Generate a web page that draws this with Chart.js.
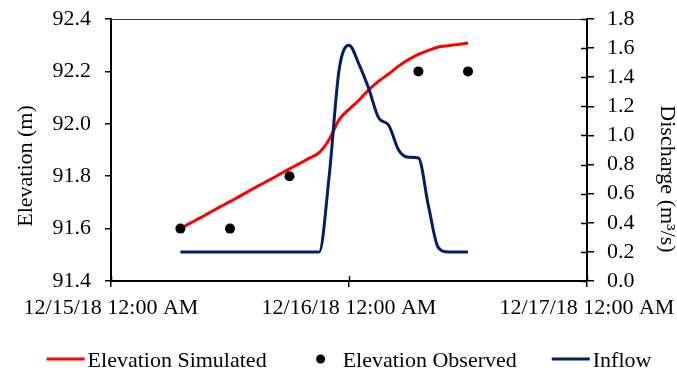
<!DOCTYPE html>
<html>
<head>
<meta charset="utf-8">
<title>Reservoir elevation and inflow</title>
<script src="https://cdn.jsdelivr.net/npm/chart.js@4/dist/chart.umd.min.js"></script>
<style>
  html, body { margin: 0; padding: 0; background: #fff; }
  canvas { display: block; }
</style>
</head>
<body>
<canvas id="reservoirChart" width="677" height="372"></canvas>
<script>
// Hours counted from 12/15/18 12:00 AM
const simHours = [7, 8, 9, 10, 11, 12, 13, 14, 15, 16, 17, 18, 19, 20, 21,
                  22, 23, 24, 25, 26, 27, 28, 29, 30, 31, 32, 33, 34, 35, 36];
const simElevation = [91.600, 91.621, 91.641, 91.662, 91.683, 91.703, 91.724, 91.745, 91.766, 91.786,
                      91.807, 91.828, 91.848, 91.869, 91.890, 91.94, 92.015, 92.055, 92.09, 92.13,
                      92.163, 92.19, 92.22, 92.245, 92.265, 92.28, 92.293, 92.298, 92.303, 92.308];

const obsHours = [7, 12, 18, 31, 36];
const obsElevation = [91.6, 91.6, 91.8, 92.2, 92.2];

const inflowHours = simHours;
const inflow = [0.2, 0.2, 0.2, 0.2, 0.2, 0.2, 0.2, 0.2, 0.2, 0.2, 0.2, 0.2, 0.2, 0.2, 0.2,
                0.72, 1.45, 1.62, 1.49, 1.32, 1.12, 1.07, 0.90, 0.85, 0.845, 0.52, 0.23, 0.2, 0.2, 0.2];

const xTickLabels = ['12/15/18 12:00 AM', '12/16/18 12:00 AM', '12/17/18 12:00 AM'];
const elevRange = [91.4, 92.4];
const dischargeRange = [0, 1.8];

const FONT = '"Liberation Serif", "Times New Roman", serif';
Chart.defaults.font.family = FONT;
Chart.defaults.font.size = 22;
Chart.defaults.color = '#000';

const toPoints = (xs, ys) => xs.map((x, i) => ({ x, y: ys[i] }));

// axis titles, top frame line, inner tick halves and the legend row
const decorPlugin = {
  id: 'decor',
  afterDraw(chart) {
    const { ctx, chartArea: area, scales } = chart;
    ctx.save();

    ctx.strokeStyle = '#404040';
    ctx.lineWidth = 1;
    ctx.beginPath();
    ctx.moveTo(area.left, area.top + 0.5);
    ctx.lineTo(area.right, area.top + 0.5);
    ctx.stroke();

    ctx.strokeStyle = '#000';
    ctx.lineWidth = 1.5;
    ctx.beginPath();
    scales.x.ticks.forEach(t => {
      const px = Math.round(scales.x.getPixelForValue(t.value)) + 0.5;
      ctx.moveTo(px, area.bottom);
      ctx.lineTo(px, area.bottom - 5);
    });
    scales.y2.ticks.forEach(t => {
      const py = Math.round(scales.y2.getPixelForValue(t.value)) + 0.5;
      ctx.moveTo(area.right, py);
      ctx.lineTo(area.right - 6, py);
    });
    ctx.stroke();

    ctx.font = '22px ' + FONT;
    ctx.fillStyle = '#000';
    ctx.textAlign = 'center';
    ctx.textBaseline = 'middle';

    ctx.save();
    ctx.translate(26, 166);
    ctx.rotate(-Math.PI / 2);
    ctx.fillText('Elevation (m)', 0, 0);
    ctx.restore();

    ctx.save();
    ctx.translate(667, 179);
    ctx.rotate(Math.PI / 2);
    ctx.fillText('Discharge (m\u00b3/s)', 0, 0);
    ctx.restore();

    // legend
    const markerW = 38, textGap = 3, itemGap = 35, rowY = 359, baseY = 367;
    const items = chart.data.datasets.map(ds => ({
      label: ds.label,
      color: ds.showLine === false ? ds.pointBackgroundColor : ds.borderColor,
      dot: ds.showLine === false,
      width: markerW + textGap + ctx.measureText(ds.label).width
    }));
    const total = items.reduce((s, it) => s + it.width, 0) + itemGap * (items.length - 1);
    let x = (area.left + area.right) / 2 - total / 2;
    ctx.textAlign = 'left';
    ctx.textBaseline = 'alphabetic';
    items.forEach(it => {
      if (it.dot) {
        ctx.fillStyle = it.color;
        ctx.beginPath();
        ctx.arc(x + markerW / 2, rowY, 4.5, 0, Math.PI * 2);
        ctx.fill();
      } else {
        ctx.strokeStyle = it.color;
        ctx.lineWidth = 3;
        ctx.beginPath();
        ctx.moveTo(x, rowY);
        ctx.lineTo(x + markerW, rowY);
        ctx.stroke();
      }
      ctx.fillStyle = '#000';
      ctx.fillText(it.label, x + markerW + textGap, baseY);
      x += it.width + itemGap;
    });

    ctx.restore();
  }
};

const ctx = document.getElementById('reservoirChart').getContext('2d');
new Chart(ctx, {
  type: 'line',
  data: {
    datasets: [{
      label: 'Elevation Simulated',
      data: toPoints(simHours, simElevation),
      yAxisID: 'y',
      borderColor: '#ff0000',
      borderWidth: 3,
      pointRadius: 0,
      cubicInterpolationMode: 'monotone',
      order: 2
    }, {
      label: 'Elevation Observed',
      data: toPoints(obsHours, obsElevation),
      yAxisID: 'y',
      showLine: false,
      pointRadius: 5,
      pointBackgroundColor: '#000',
      pointBorderWidth: 0,
      order: 1
    }, {
      label: 'Inflow',
      data: toPoints(inflowHours, inflow),
      yAxisID: 'y2',
      borderColor: '#002060',
      borderWidth: 3,
      pointRadius: 0,
      cubicInterpolationMode: 'monotone',
      order: 0
    }]
  },
  options: {
    responsive: false,
    animation: false,
    devicePixelRatio: 1,
    layout: { padding: { top: 19, left: 0, right: 0, bottom: 0 } },
    plugins: {
      legend: { display: false },
      tooltip: { enabled: false }
    },
    scales: {
      x: {
        type: 'linear',
        min: 0,
        max: 48,
        afterFit: s => { s.height = 91; s.paddingLeft = 0; s.paddingRight = 0; },
        ticks: {
          stepSize: 24,
          autoSkip: false,
          maxRotation: 0,
          padding: 8,
          callback: v => xTickLabels[v / 24]
        },
        grid: { drawOnChartArea: false, tickLength: 6, tickColor: '#000', lineWidth: 1.5 },
        border: { color: '#000', width: 2 }
      },
      y: {
        position: 'left',
        min: elevRange[0],
        max: elevRange[1],
        afterFit: s => { s.width = 111; s.paddingTop = 0; s.paddingBottom = 0; },
        ticks: { stepSize: 0.2, autoSkip: false, padding: 14, callback: v => v.toFixed(1) },
        grid: { drawOnChartArea: false, tickLength: 6, tickColor: '#000', lineWidth: 1.5 },
        border: { color: '#000', width: 2 }
      },
      y2: {
        position: 'right',
        min: dischargeRange[0],
        max: dischargeRange[1],
        afterFit: s => { s.width = 90; s.paddingTop = 0; s.paddingBottom = 0; },
        ticks: { stepSize: 0.2, autoSkip: false, padding: 13, callback: v => v.toFixed(1) },
        grid: { drawOnChartArea: false, tickLength: 7, tickColor: '#000', lineWidth: 1.5 },
        border: { color: '#000', width: 2 }
      }
    }
  },
  plugins: [decorPlugin]
});
</script>
</body>
</html>
